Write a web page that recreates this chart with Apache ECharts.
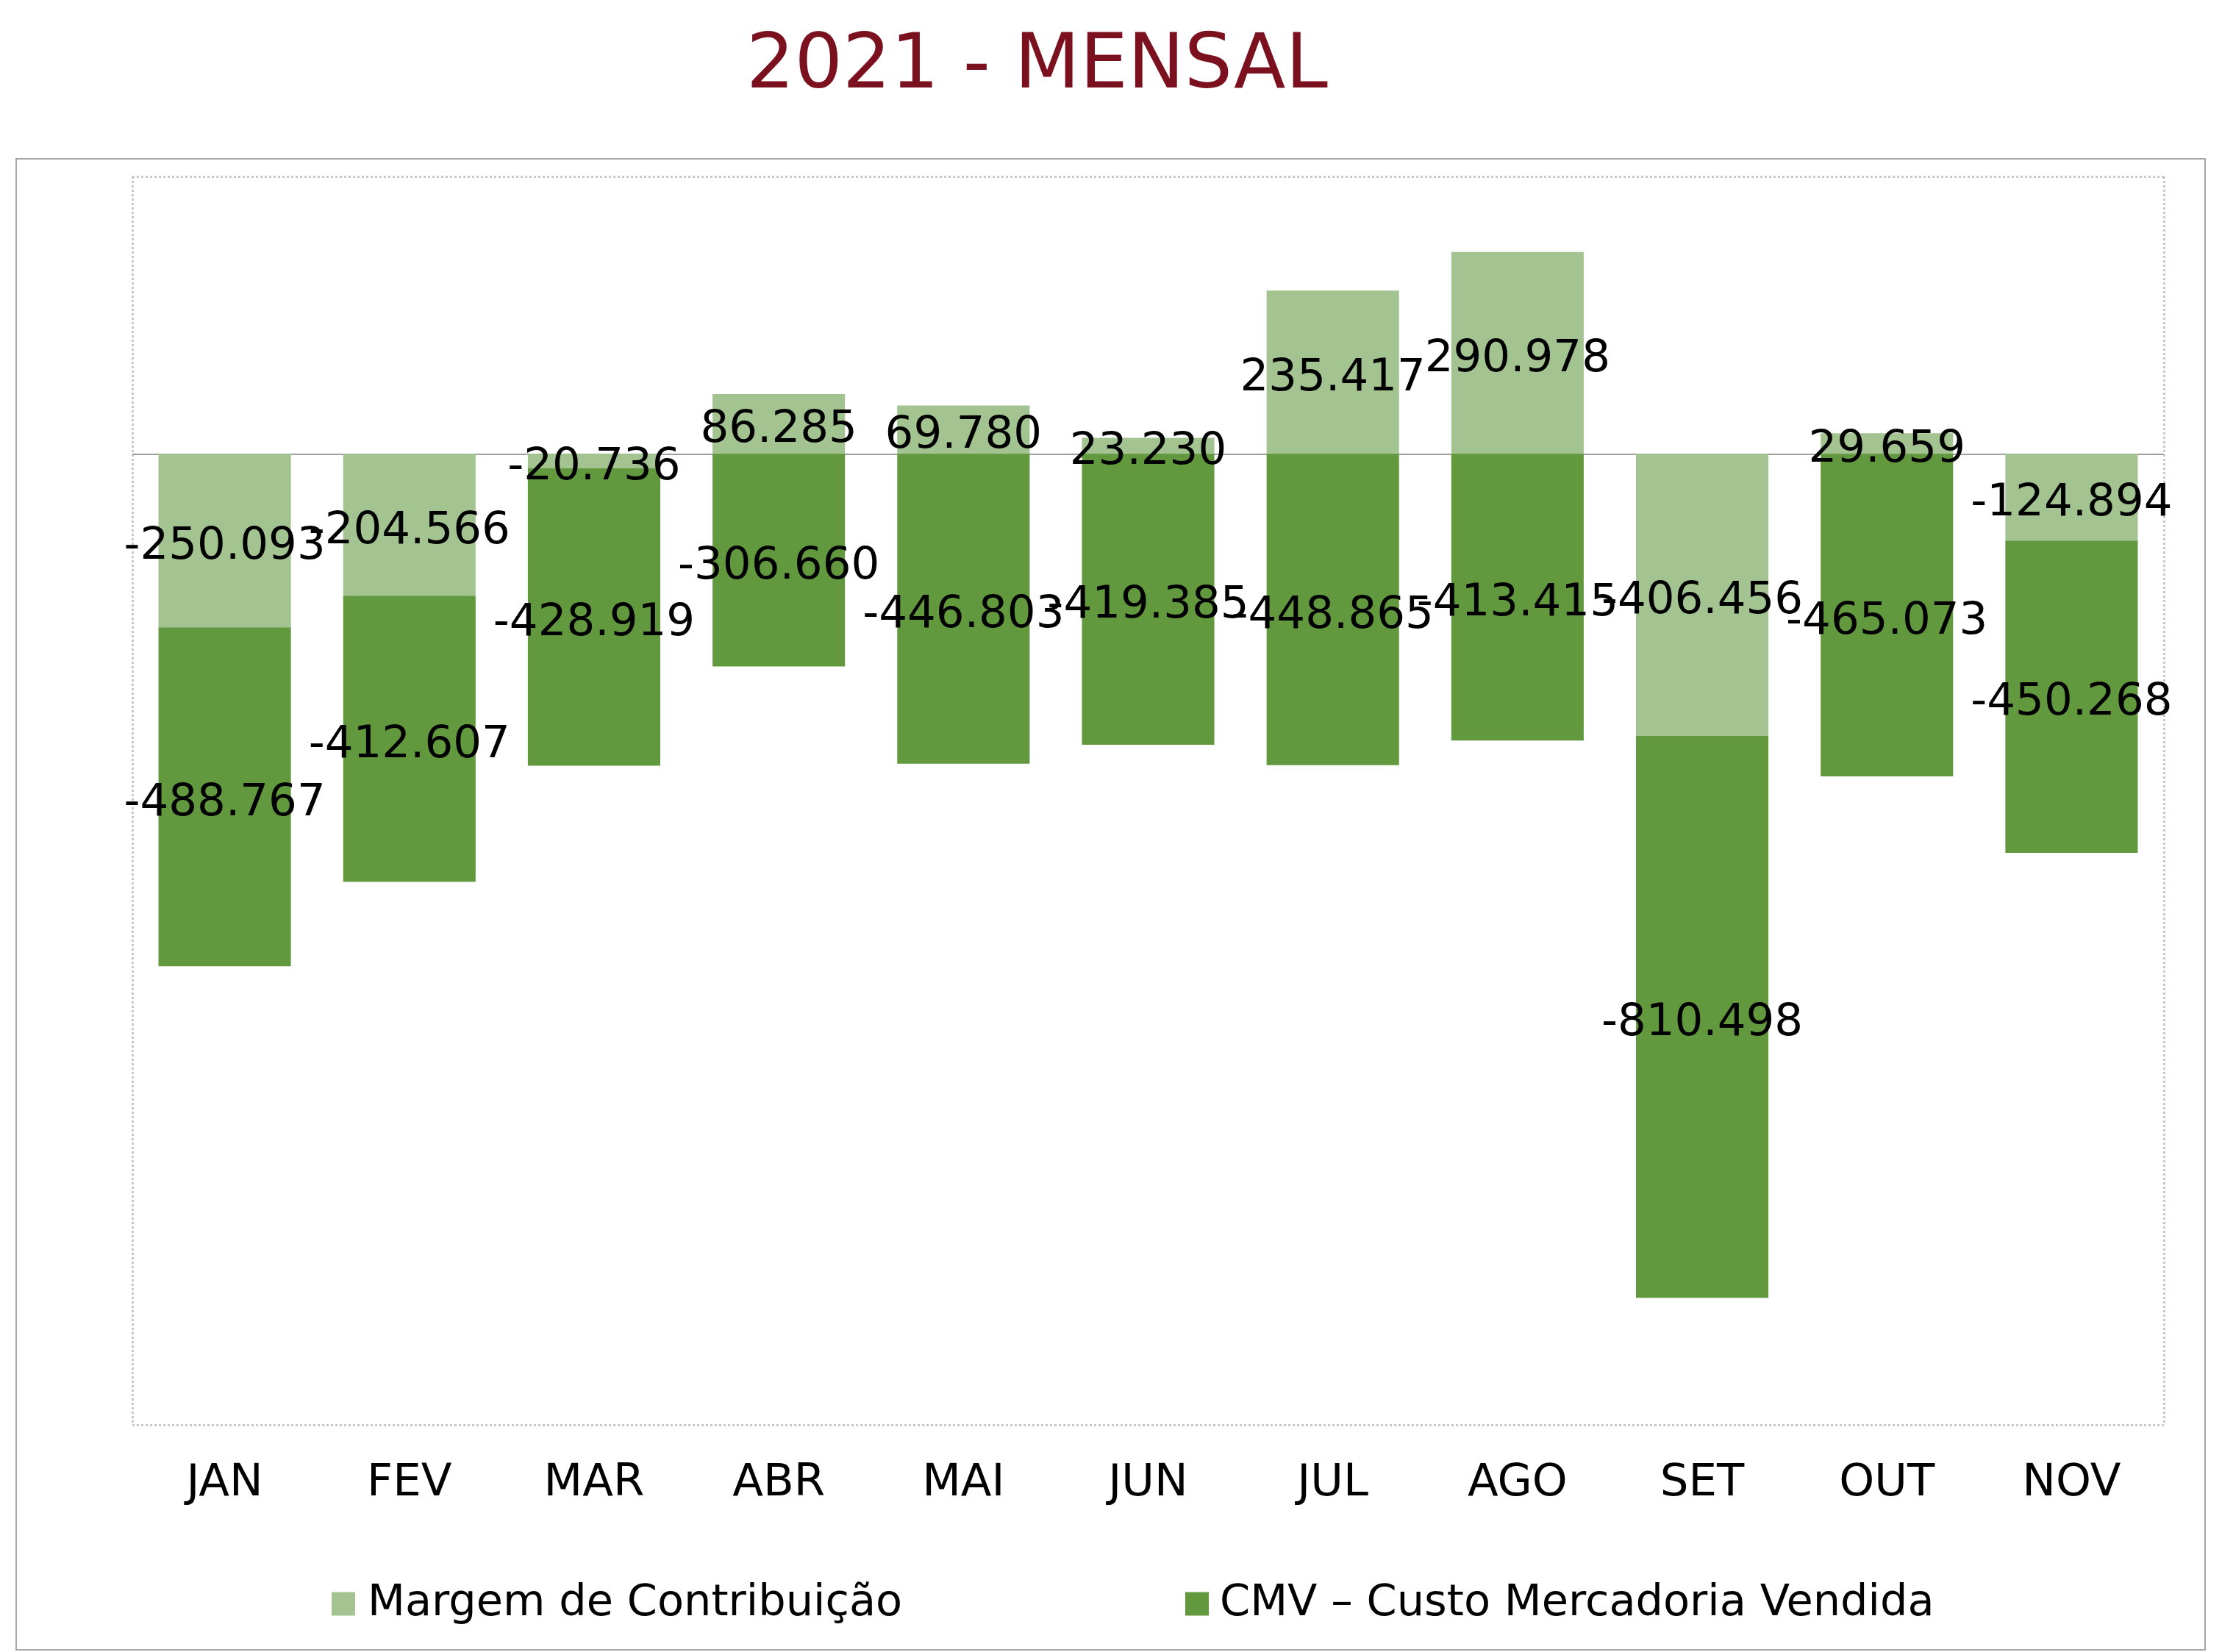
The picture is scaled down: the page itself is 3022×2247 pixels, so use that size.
<!DOCTYPE html>
<html><head><meta charset="utf-8">
<script src="https://cdn.jsdelivr.net/npm/echarts@6/dist/echarts.min.js"></script>
<style>html,body{margin:0;padding:0;background:#fff}#c{width:3022px;height:2247px}</style>
</head><body><div id="c"></div>
<script>
const months = ['JAN','FEV','MAR','ABR','MAI','JUN','JUL','AGO','SET','OUT','NOV'];
const margem = [-250093,-204566,-20736,86285,69780,23230,235417,290978,-406456,29659,-124894];
const cmv = [-488767,-412607,-428919,-306660,-446803,-419385,-448865,-413415,-810498,-465073,-450268];
const seriesNames = ['Margem de Contribuição','CMV – Custo Mercadoria Vendida'];
const titleText = '2021 - MENSAL';

function fmt(v){
  const s = Math.abs(v).toString().replace(/\B(?=(\d{3})+(?!\d))/g,'.');
  return (v<0?'-':'')+s;
}
const chart = echarts.init(document.getElementById('c'));
const labelStyle = {show:true, position:'inside', offset:[0,9], color:'#000', fontFamily:'DejaVu Sans', fontSize:61, formatter:p=>fmt(p.value)};
chart.setOption({
  animation:false,
  title:{text:titleText, left:1010, top:36, textStyle:{color:'#7B111E', fontFamily:'DejaVu Sans', fontWeight:'normal', fontSize:103}},
  graphic:[{type:'rect', shape:{x:22,y:216,width:2977,height:2028}, style:{fill:'none', stroke:'#a6a6a6', lineWidth:2}, silent:true, z:-1}],
  legend:[
    {data:[seriesNames[0]], left:446, top:2147, itemWidth:32, itemHeight:32, icon:'rect', textStyle:{fontFamily:'DejaVu Sans', fontSize:59, color:'#000', padding:[0,0,0,12]}},
    {data:[seriesNames[1]], left:1607, top:2147, itemWidth:32, itemHeight:32, icon:'rect', textStyle:{fontFamily:'DejaVu Sans', fontSize:59, color:'#000', padding:[0,0,0,10]}}
  ],
  grid:{left:180, top:240, width:2763, height:1698},
  xAxis:[
    {type:'category', data:months, axisLine:{show:false}, axisTick:{show:false}, axisLabel:{margin:50, color:'#000', fontFamily:'DejaVu Sans', fontSize:61}},
    {type:'value', min:0, max:1, interval:1, position:'top', axisLine:{show:false}, axisTick:{show:false}, axisLabel:{show:false}, splitLine:{show:true, lineStyle:{color:'#c8c8c8', type:'dotted', width:3}}}
  ],
  yAxis:[
    {type:'value', min:-1400000, max:400000, show:false, splitLine:{show:false}},
    {type:'value', min:0, max:1, interval:1, axisLine:{show:false}, axisTick:{show:false}, axisLabel:{show:false}, splitLine:{show:true, lineStyle:{color:'#c8c8c8', type:'dotted', width:3}}}
  ],
  series:[
    {name:seriesNames[0], type:'bar', stack:'s', data:margem, barWidth:'71.7%', itemStyle:{color:'#A3C491'}, label:labelStyle,
     markLine:{silent:true, symbol:'none', label:{show:false}, lineStyle:{color:'#a0a0a0', type:'solid', width:2}, data:[{yAxis:0}], z:1}},
    {name:seriesNames[1], type:'bar', stack:'s', data:cmv, barWidth:'71.7%', itemStyle:{color:'#62993E'}, label:labelStyle}
  ]
});
</script></body></html>
